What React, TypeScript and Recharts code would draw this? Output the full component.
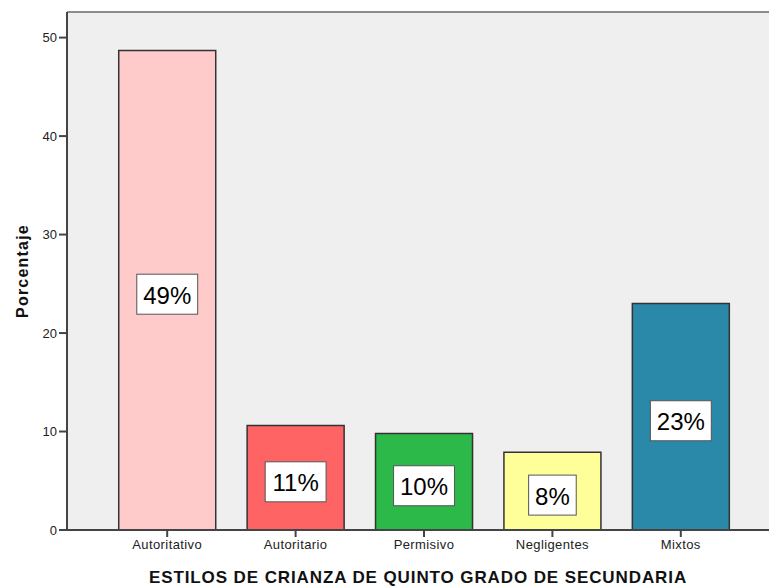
import { Bar, BarChart, CartesianGrid, Cell, LabelList, ReferenceLine, XAxis, YAxis } from "recharts";

const estilos = ["Autoritativo", "Autoritario", "Permisivo", "Negligentes", "Mixtos"];
const porcentajes = [48.7, 10.6, 9.8, 7.9, 23.0];
const etiquetas = ["49%", "11%", "10%", "8%", "23%"];
const colores = ["#ffcaca", "#ff6464", "#2db84a", "#ffff99", "#2a88a8"];
const yTicks = [0, 10, 20, 30, 40, 50];

const data = estilos.map((e, i) => ({ estilo: e, valor: porcentajes[i], etiqueta: etiquetas[i] }));

function BoxLabel(props: any) {
  const { x, y, width, height, value } = props;
  const text = String(value);
  let tw = 0;
  for (const ch of text) tw += ch === "%" ? 21.3 : 13.3;
  const bw = tw + 13;
  const bh = 40;
  const cx = x + width / 2;
  const cy = y + height / 2 + 4;
  return (
    <g>
      <rect x={cx - bw / 2} y={cy - bh / 2} width={bw} height={bh} fill="#ffffff" stroke="#555" strokeWidth={1} />
      <text x={cx} y={cy + 1} textAnchor="middle" dominantBaseline="central" fontSize={24} fill="#000">
        {text}
      </text>
    </g>
  );
}

export default function App() {
  return (
    <div style={{ position: "absolute", left: 0, top: 0, background: "#fff", fontFamily: "'Liberation Sans', Arial, sans-serif" }}>
      <BarChart
        width={769}
        height={587}
        data={data}
        margin={{ top: 12, right: 0, left: 0, bottom: 0 }}
        barCategoryGap="12.25%"
      >
        <CartesianGrid fill="#efefef" horizontal={false} vertical={false} />
        <ReferenceLine y={52.6} stroke="#8c8c8c" strokeWidth={2} ifOverflow="extendDomain" />
        <XAxis
          dataKey="estilo"
          height={57}
          padding={{ left: 36, right: 24 }}
          axisLine={{ stroke: "#444", strokeWidth: 2 }}
          tickLine={{ stroke: "#444", strokeWidth: 2 }}
          tickSize={7}
          tickMargin={3}
          tick={{ fontSize: 13, fill: "#222", letterSpacing: 0.4 }}
          label={{
            value: "ESTILOS DE CRIANZA DE QUINTO GRADO DE SECUNDARIA",
            position: "insideBottom",
            offset: 4,
            fontSize: 17,
            fontWeight: "bold",
            letterSpacing: 0.9,
            fill: "#111",
          }}
        />
        <YAxis
          width={67}
          domain={[0, 52.6]}
          ticks={yTicks}
          axisLine={{ stroke: "#444", strokeWidth: 2 }}
          tickLine={{ stroke: "#444", strokeWidth: 2 }}
          tickSize={8}
          tickMargin={2}
          tick={{ fontSize: 13, fill: "#222" }}
          label={{
            value: "Porcentaje",
            angle: -90,
            position: "center",
            dx: -11,
            fontSize: 16,
            fontWeight: "bold",
            letterSpacing: 1.2,
            fill: "#111",
          }}
        />
        <Bar dataKey="valor" stroke="#333" strokeWidth={1.5} isAnimationActive={false}>
          {data.map((d, i) => (
            <Cell key={d.estilo} fill={colores[i]} />
          ))}
          <LabelList dataKey="etiqueta" content={<BoxLabel />} />
        </Bar>
      </BarChart>
    </div>
  );
}
